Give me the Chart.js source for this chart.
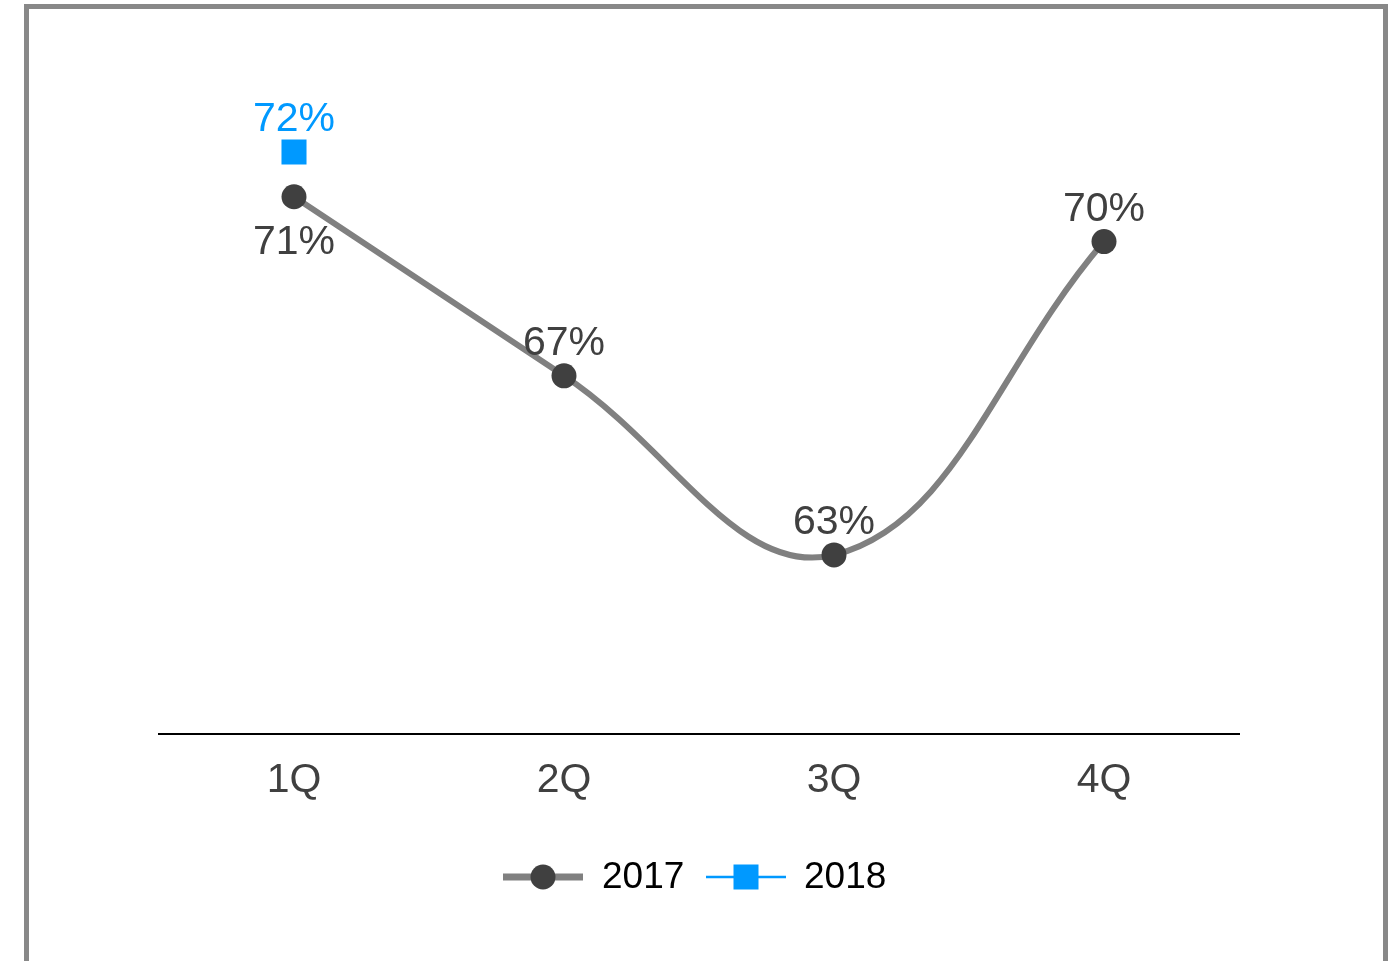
<!DOCTYPE html>
<html>
<head>
<meta charset="utf-8">
<script src="https://cdn.jsdelivr.net/npm/chart.js@4/dist/chart.umd.min.js"></script>
<style>
  html, body { margin: 0; padding: 0; background: #fff; }
  #wrap { position: relative; width: 1398px; height: 961px; }
  #frame { position: absolute; left: 24px; top: 4px; width: 1354px; height: 980px; border: 5px solid #888; box-sizing: content-box; }
  canvas { position: absolute; left: 0; top: 0; }
</style>
</head>
<body>
<div id="wrap">
  <div id="frame"></div>
  <canvas id="chart" width="1398" height="961"></canvas>
</div>
<script>
const quarters = ['1Q', '2Q', '3Q', '4Q']
const values2017 = [71, 67, 63, 70]
const values2018 = [72, null, null, null]
const seriesNames = ['2017', '2018']

const FONT = '"Liberation Sans", Arial, sans-serif'

// percent labels next to each point: 2018 above, 2017 below on 1Q, above elsewhere
const valueLabels = {
  id: 'valueLabels',
  afterDatasetsDraw(chart) {
    const ctx = chart.ctx
    ctx.save()
    ctx.font = '41px ' + FONT
    ctx.textAlign = 'center'
    ctx.textBaseline = 'alphabetic'
    chart.data.datasets.forEach((ds, i) => {
      const meta = chart.getDatasetMeta(i)
      meta.data.forEach((pt, j) => {
        const v = ds.data[j]
        if (v == null) return
        let dy = -21
        if (i === 0 && j === 0) dy = 57
        ctx.fillStyle = i === 0 ? '#404040' : '#0099ff'
        ctx.fillText(v + '%', pt.x, pt.y + dy)
      })
    })
    ctx.restore()
  }
}

// legend with line + marker samples, centred under the axis
const lineLegend = {
  id: 'lineLegend',
  afterDraw(chart) {
    const ctx = chart.ctx
    const y = 877
    const items = [
      { x: 503, lw: 7, color: '#808080', marker: 'circle', mColor: '#404040', textX: 602 },
      { x: 706, lw: 2.5, color: '#0099ff', marker: 'rect', mColor: '#0099ff', textX: 804 }
    ]
    ctx.save()
    items.forEach((it, i) => {
      ctx.strokeStyle = it.color
      ctx.lineWidth = it.lw
      ctx.beginPath()
      ctx.moveTo(it.x, y)
      ctx.lineTo(it.x + 80, y)
      ctx.stroke()
      ctx.fillStyle = it.mColor
      if (it.marker === 'circle') {
        ctx.beginPath()
        ctx.arc(it.x + 40, y, 12.5, 0, Math.PI * 2)
        ctx.fill()
      } else {
        ctx.fillRect(it.x + 27.5, y - 12.5, 25, 25)
      }
      ctx.fillStyle = '#000'
      ctx.font = '37px ' + FONT
      ctx.textAlign = 'left'
      ctx.textBaseline = 'middle'
      ctx.fillText(seriesNames[i], it.textX, y + 1)
    })
    ctx.restore()
  }
}

new Chart(document.getElementById('chart'), {
  type: 'line',
  data: {
    labels: quarters,
    datasets: [
      {
        label: seriesNames[0],
        data: values2017,
        borderColor: '#808080',
        borderWidth: 6,
        tension: 0.4,
        pointRadius: 12.5,
        pointBorderWidth: 0,
        pointBackgroundColor: '#404040',
        pointStyle: 'circle'
      },
      {
        label: seriesNames[1],
        data: values2018,
        borderColor: '#0099ff',
        borderWidth: 2,
        pointRadius: 17.7,
        pointBorderWidth: 0,
        pointBackgroundColor: '#0099ff',
        pointStyle: 'rect'
      }
    ]
  },
  options: {
    responsive: false,
    animation: false,
    layout: { padding: { left: 159, right: 159, top: 15, bottom: 0 } },
    plugins: {
      legend: { display: false },
      tooltip: { enabled: false }
    },
    scales: {
      x: {
        offset: true,
        grid: { display: false, drawTicks: false },
        border: { display: true, color: '#000', width: 2 },
        ticks: { color: '#404040', font: { size: 41, family: FONT }, padding: 22 },
        afterFit(scale) { scale.height = 961 - 734 }
      },
      y: {
        display: false,
        min: 59,
        max: 75
      }
    }
  },
  plugins: [valueLabels, lineLegend]
})
</script>
</body>
</html>
